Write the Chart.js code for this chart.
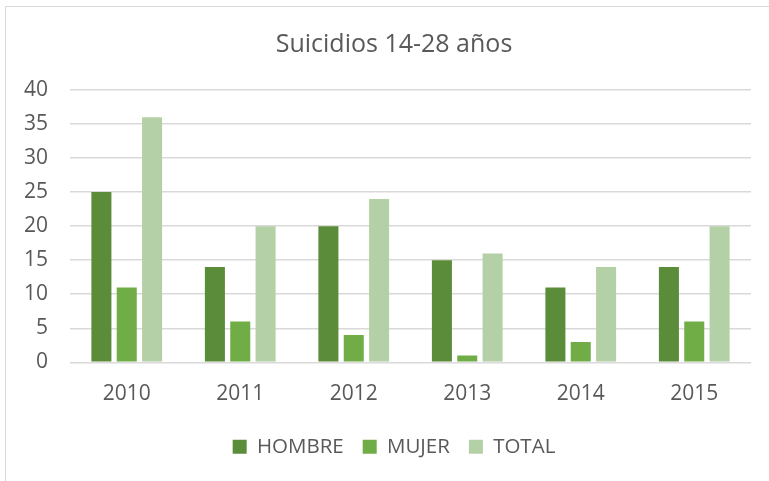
<!DOCTYPE html>
<html>
<head>
<meta charset="utf-8">
<script src="https://cdn.jsdelivr.net/npm/chart.js@4/dist/chart.umd.min.js"></script>
<style>
  html, body { margin: 0; padding: 0; background: #fff; overflow: hidden; }
  #marco { position: absolute; left: 5px; top: 6px; width: 800px; height: 500px; border: 1px solid #d9d9d9; }
  #lienzo { position: absolute; left: 0; top: 0; width: 788px; height: 481px; }
</style>
</head>
<body>
<div id="marco"></div>
<div id="lienzo"><canvas id="grafico"></canvas></div>
<script>
/* Datos */
var anios = ['2010', '2011', '2012', '2013', '2014', '2015'];
var hombre = [25, 14, 20, 15, 11, 14];
var mujer = [11, 6, 4, 1, 3, 6];
var total = [36, 20, 24, 16, 14, 20];

Chart.defaults.font.family = "'Open Sans', 'Noto Sans', sans-serif";
Chart.defaults.color = '#595959';

function serie(nombre, valores, color) {
    return {
        label: nombre,
        data: valores,
        backgroundColor: color,
        categoryPercentage: 0.67,
        barPercentage: 0.79
    };
}

new Chart(document.getElementById('grafico'), {
    type: 'bar',
    data: {
        labels: anios,
        datasets: [
            serie('HOMBRE', hombre, '#5B8C3A'),
            serie('MUJER', mujer, '#70AD47'),
            serie('TOTAL', total, '#B4D0A6')
        ]
    },
    options: {
        responsive: true,
        maintainAspectRatio: false,
        animation: false,
        layout: { padding: { left: 0, right: 0, top: 0, bottom: 14 } },
        plugins: {
            title: {
                display: true,
                text: 'Suicidios 14-28 años',
                font: { size: 25, weight: 'normal' },
                color: '#595959',
                padding: { top: 30, bottom: 30 }
            },
            legend: {
                position: 'bottom',
                labels: { boxWidth: 14, boxHeight: 14, font: { size: 20.5 }, padding: 19 }
            },
            tooltip: { enabled: false }
        },
        scales: {
            x: {
                grid: { display: false },
                border: { display: false },
                ticks: { font: { size: 21 }, padding: 11 }
            },
            y: {
                min: 0,
                max: 40,
                ticks: { stepSize: 5, font: { size: 21 }, padding: 22 },
                grid: { color: '#d9d9d9', lineWidth: 1.5, drawTicks: false },
                border: { display: false },
                afterFit: function (escala) { escala.width = 70; }
            },
            /* eje vacío a la derecha: solo reserva margen para el área de barras */
            margen: {
                position: 'right',
                grid: { display: false },
                border: { display: false },
                ticks: { display: false },
                afterFit: function (escala) { escala.width = 37; }
            }
        }
    }
});
</script>
</body>
</html>
